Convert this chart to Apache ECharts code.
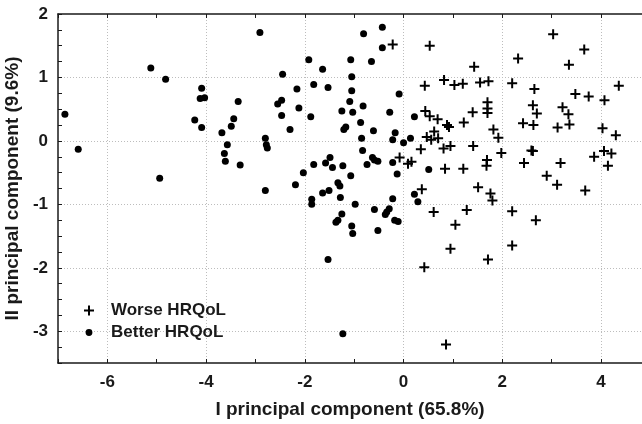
<!DOCTYPE html>
<html>
<head>
<meta charset="utf-8">
<script src="https://cdn.jsdelivr.net/npm/echarts@6/dist/echarts.min.js"></script>
<style>
  html, body { margin: 0; padding: 0; background: #fff; }
  #chart { width: 642px; height: 424px; }
</style>
</head>
<body>
<div id="chart"></div>
<script>
// PCA scores
const worseHRQoL = [
  [-0.22, 1.52], [0.43, 0.87], [0.44, 0.47], [0.47, 0.06], [0.35, -0.13],
  [-0.08, -0.26], [0.09, -0.36], [0.16, -0.33], [1.43, 1.17], [0.82, 0.96],
  [1.03, 0.88], [1.2, 0.9], [1.55, 0.92], [1.72, 0.94], [1.7, 0.61],
  [1.7, 0.51], [1.7, 0.44], [1.4, 0.45], [0.53, 0.39], [0.69, 0.34],
  [0.88, 0.25], [0.92, 0.22], [1.22, 0.29], [1.82, 0.18], [1.92, 0.05],
  [0.62, 0.15], [0.56, 0.02], [0.7, 0.04], [0.81, -0.12], [0.95, -0.08],
  [1.41, -0.08], [0.53, 1.5], [2.32, 1.3], [3.03, 1.68], [3.66, 1.44],
  [3.35, 1.2], [2.2, 0.91], [2.65, 0.82], [3.48, 0.74], [3.75, 0.7],
  [4.07, 0.64], [4.36, 0.87], [2.62, 0.56], [2.7, 0.43], [3.22, 0.53],
  [3.34, 0.42], [2.42, 0.28], [2.63, 0.25], [3.12, 0.21], [3.36, 0.26],
  [4.03, 0.2], [4.3, 0.09], [1.98, -0.19], [2.59, -0.15], [2.62, -0.16],
  [3.86, -0.25], [4.06, -0.16], [4.21, -0.2], [4.14, -0.39], [1.69, -0.3],
  [1.68, -0.39], [2.44, -0.35], [3.18, -0.35], [2.9, -0.55], [0.84, -0.44],
  [1.21, -0.44], [3.11, -0.69], [3.68, -0.78], [2.2, -1.11], [2.68, -1.25],
  [0.37, -0.76], [0.61, -1.12], [1.51, -0.73], [1.76, -0.83], [1.8, -0.94],
  [1.28, -1.09], [1.05, -1.32], [0.95, -1.7], [1.71, -1.87], [2.2, -1.65],
  [0.42, -1.99], [0.86, -3.21]
];

const betterHRQoL = [
  [-5.12, 1.15], [-4.82, 0.97], [-4.09, 0.83], [-4.12, 0.67], [-4.03, 0.68],
  [-3.35, 0.62], [-6.86, 0.42], [-4.23, 0.33], [-4.09, 0.21], [-3.44, 0.35],
  [-3.49, 0.23], [-3.68, 0.13], [-6.59, -0.13], [-3.57, -0.06], [-3.63, -0.2],
  [-3.61, -0.32], [-3.31, -0.38], [-4.94, -0.59], [-2.91, 1.71], [-0.81, 1.69],
  [-0.43, 1.79], [-0.43, 1.47], [-0.65, 1.25], [-1.92, 1.28], [-1.64, 1.13],
  [-1.07, 1.28], [-2.45, 1.05], [-1.05, 1.01], [-2.16, 0.82], [-1.82, 0.89],
  [-1.53, 0.84], [-1.05, 0.79], [-0.09, 0.74], [-2.55, 0.58], [-2.47, 0.64],
  [-1.09, 0.62], [-2.12, 0.52], [-0.82, 0.55], [-1.25, 0.47], [-1.03, 0.45],
  [-0.28, 0.45], [0.22, 0.38], [-2.47, 0.4], [-1.88, 0.38], [-2.3, 0.18],
  [-0.87, 0.29], [-1.21, 0.18], [-1.17, 0.22], [-0.61, 0.16], [-0.17, 0.13],
  [-2.8, 0.04], [-2.78, -0.06], [-2.76, -0.11], [-0.85, 0.04], [-0.22, 0.02],
  [0.0, -0.03], [0.14, 0.04], [-0.83, -0.15], [-0.63, -0.26], [-0.59, -0.3],
  [-0.52, -0.32], [-0.22, -0.34], [-0.13, -0.52], [-1.82, -0.37], [-1.58, -0.35],
  [-1.49, -0.26], [-1.44, -0.42], [-1.23, -0.39], [-0.74, -0.37], [-2.03, -0.5],
  [-1.07, -0.55], [0.51, -0.45], [0.22, -0.84], [0.29, -0.96], [-0.11, -1.27],
  [-0.18, -1.25], [-1.33, -0.66], [-1.29, -0.71], [-1.64, -0.82], [-1.51, -0.78],
  [-1.86, -0.92], [-1.86, -1.0], [-1.28, -0.89], [-0.98, -1.0], [-0.22, -0.91],
  [-0.59, -1.08], [-0.29, -1.07], [-0.34, -1.12], [-0.37, -1.16], [-1.25, -1.15],
  [-1.33, -1.25], [-1.37, -1.28], [-1.05, -1.34], [-0.52, -1.41], [-2.8, -0.78],
  [-2.19, -0.69], [-1.03, -1.46], [-1.53, -1.87], [-1.23, -3.04]
];

const xTicks = [-6, -4, -2, 0, 2, 4];
const yTicks = [-3, -2, -1, 0, 1, 2];

// axis ranges
const xMin = -7, xMax = 4.83;
const yMin = -3.5, yMax = 2;

const plusPath = "path://M4,0h2v4h4v2h-4v4h-2v-4h-4v-2h4z";
// small dot inside a 10x10 box, so the legend dot stays smaller than the cross
const legendDot = "path://M0,0M10,10M5,1.6A3.4,3.4 0 1 1 5,8.4A3.4,3.4 0 1 1 5,1.6z";
const font = "Liberation Sans, Arial, sans-serif";
const ink = "#1a1a1a";

// plot box in px
const plotLeft = 58, plotTop = 14, plotBottom = 61;
const plotW = 642 - plotLeft;
const plotH = 424 - plotTop - plotBottom;
const pxPerX = plotW / (xMax - xMin);
const pxPerY = plotH / (yMax - yMin);

const chart = echarts.init(document.getElementById("chart"), null, { renderer: "canvas" });

const tickStyle = { show: true, inside: true, length: 4, lineStyle: { color: ink, width: 1 } };
// faint dotted grid, only at the labelled ticks
const gridLine = { show: true, showMinLine: true, showMaxLine: false, lineStyle: { color: "#bdbdbd", type: [1, 2], width: 1 } };
const hidden = { axisLine: { show: false }, axisTick: { show: false }, axisLabel: { show: false } };

const option = {
  animation: false,
  backgroundColor: "#fff",
  grid: [
    { left: plotLeft, right: 0, top: plotTop, bottom: plotBottom, containLabel: false, outerBoundsMode: "none" },
    // vertical dotted lines: axis starting at the first labelled tick
    { left: plotLeft + (xTicks[0] - xMin) * pxPerX, right: 0, top: plotTop, bottom: plotBottom, containLabel: false, outerBoundsMode: "none" },
    // horizontal dotted lines: axis starting at the lowest labelled tick
    { left: plotLeft, right: 0, top: plotTop, bottom: plotBottom + (yTicks[0] - yMin) * pxPerY, containLabel: false, outerBoundsMode: "none" }
  ],
  legend: {
    orient: "vertical",
    left: 84,
    top: 302,
    itemWidth: 10,
    itemHeight: 10,
    itemGap: 5,
    padding: 0,
    textStyle: { fontFamily: font, fontSize: 17, fontWeight: "bold", color: ink, padding: [0, 0, 0, 12] },
    data: [
      { name: "Worse HRQoL", icon: plusPath, itemStyle: { color: "#000", borderWidth: 0 } },
      { name: "Better HRQoL", icon: legendDot, itemStyle: { color: "#000", borderWidth: 0 } }
    ]
  },
  xAxis: [
    {
      type: "value",
      gridIndex: 0,
      min: xMin,
      max: xMax,
      interval: 1,
      axisLine: { show: true, onZero: false, lineStyle: { color: ink, width: 1.5 } },
      axisTick: tickStyle,
      splitLine: { show: false },
      axisLabel: {
        margin: 11,
        fontFamily: font,
        fontSize: 17,
        fontWeight: "bold",
        color: ink,
        formatter: (v) => (xTicks.includes(v) ? String(v) : "")
      },
      name: "I principal component (65.8%)",
      nameLocation: "middle",
      nameGap: 37,
      nameTextStyle: { fontFamily: font, fontSize: 19, fontWeight: "bold", color: ink }
    },
    {
      type: "value",
      gridIndex: 0,
      position: "top",
      min: xMin,
      max: xMax,
      interval: 1,
      axisLine: { show: true, onZero: false, lineStyle: { color: ink, width: 1.5 } },
      axisTick: tickStyle,
      axisLabel: { show: false },
      splitLine: { show: false }
    },
    { type: "value", gridIndex: 1, min: xTicks[0], max: xMax, interval: 2, splitLine: gridLine, ...hidden },
    { type: "value", gridIndex: 2, min: xMin, max: xMax, splitLine: { show: false }, ...hidden }
  ],
  yAxis: [
    {
      type: "value",
      gridIndex: 0,
      min: yMin,
      max: yMax,
      interval: 0.25,
      axisLine: { show: true, onZero: false, lineStyle: { color: ink, width: 1.5 } },
      axisTick: tickStyle,
      splitLine: { show: false },
      axisLabel: {
        margin: 10,
        fontFamily: font,
        fontSize: 17,
        fontWeight: "bold",
        color: ink,
        formatter: (v) => (yTicks.includes(v) ? String(v) : "")
      },
      name: "II principal component (9.6%)",
      nameLocation: "middle",
      nameGap: 33,
      nameTextStyle: { fontFamily: font, fontSize: 19, fontWeight: "bold", color: ink }
    },
    { type: "value", gridIndex: 1, min: yMin, max: yMax, splitLine: { show: false }, ...hidden },
    { type: "value", gridIndex: 2, min: yTicks[0], max: yMax, interval: 1, splitLine: gridLine, ...hidden }
  ],
  series: [
    {
      name: "Worse HRQoL",
      type: "scatter",
      xAxisIndex: 0,
      yAxisIndex: 0,
      data: worseHRQoL,
      symbol: plusPath,
      symbolSize: 10,
      itemStyle: { color: "#000", opacity: 1 },
      z: 3
    },
    {
      name: "Better HRQoL",
      type: "scatter",
      xAxisIndex: 0,
      yAxisIndex: 0,
      data: betterHRQoL,
      symbol: "circle",
      symbolSize: 7,
      itemStyle: { color: "#000", opacity: 1 },
      z: 3
    }
  ]
};

chart.setOption(option);
</script>
</body>
</html>
